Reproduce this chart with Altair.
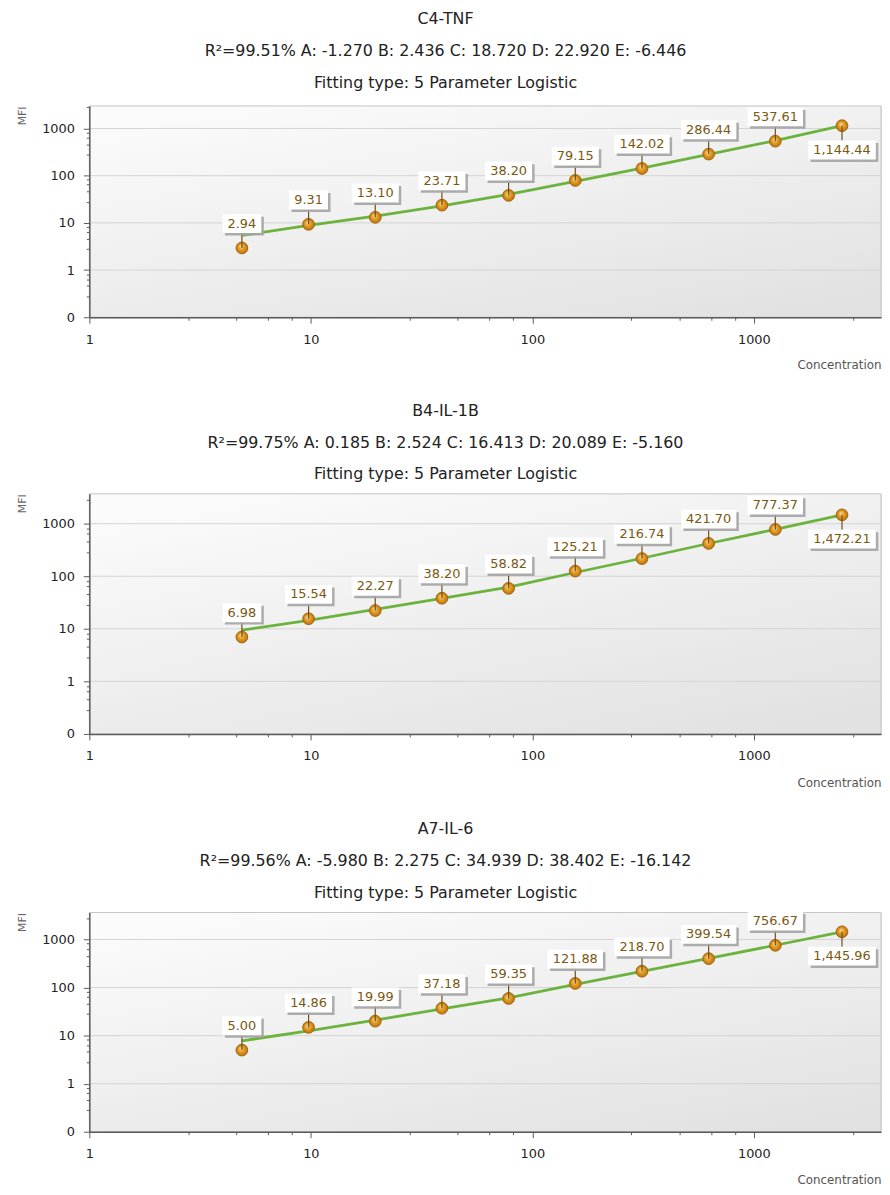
import altair as alt
import pandas as pd

# ---------------- data ----------------
concentration = [4.8828125, 9.765625, 19.53125, 39.0625, 78.125, 156.25, 312.5, 625.0, 1250.0, 2500.0]

tnf_mfi = [2.94, 9.31, 13.10, 23.71, 38.20, 79.15, 142.02, 286.44, 537.61, 1144.44]
tnf_fit = [5.4, 8.9, 13.9, 23.0, 40.0, 76.0, 145.0, 283.0, 555.0, 1150.0]

il1b_mfi = [6.98, 15.54, 22.27, 38.20, 58.82, 125.21, 216.74, 421.70, 777.37, 1472.21]
il1b_fit = [9.4, 14.5, 23.5, 38.0, 62.0, 118.0, 220.0, 420.0, 780.0, 1470.0]

il6_mfi = [5.00, 14.86, 19.99, 37.18, 59.35, 121.88, 218.70, 399.54, 756.67, 1445.96]
il6_fit = [7.8, 12.5, 21.0, 36.0, 61.0, 117.0, 218.0, 405.0, 760.0, 1446.0]

panel_titles = ["C4-TNF", "B4-IL-1B", "A7-IL-6"]
panel_params = [
    "R²=99.51% A: -1.270 B: 2.436 C: 18.720 D: 22.920 E: -6.446",
    "R²=99.75% A: 0.185 B: 2.524 C: 16.413 D: 20.089 E: -5.160",
    "R²=99.56% A: -5.980 B: 2.275 C: 34.939 D: 38.402 E: -16.142",
]
fit_type = "Fitting type: 5 Parameter Logistic"

x_major = [1, 10, 100, 1000]
y_major = [1, 10, 100, 1000]
y_floor = 0.1                      # bottom of log axis, labelled "0"
minor_steps = [2.8, 4.6, 6.4, 8.2]
x_max = 3750
y_tops = [3000, 3700, 3650]

# ---------------- layout / style ----------------
WIDTH = 798
HEIGHTS = [213, 242, 221]
X_TITLE_PAD = [14, 15, 14]
FONT = "DejaVu Sans"
GREEN = "#6cb33e"
LABEL_COLOR = "#7a580f"


def tick_values(lo, hi):
    out = []
    d = lo
    while d <= hi:
        for m in [1] + minor_steps:
            v = round(d * m, 6)
            if lo <= v <= hi:
                out.append(v)
        d *= 10
    return out


def box_path(label, pos):
    digits = sum(ch.isdigit() for ch in label)
    punct = len(label) - digits
    w = digits * 8.3 + punct * 4.2 + 10
    top, bot = (-34, -15) if pos == "above" else (15, 34)
    return f"M{-w/2:.1f},{top}H{w/2:.1f}V{bot}H{-w/2:.1f}Z"


x_major_js = "[" + ",".join(str(v) for v in x_major) + "]"
y_major_js = "[" + ",".join(str(v) for v in [y_floor] + y_major) + "]"
x_test = f"indexof({x_major_js}, datum.value) >= 0"
y_test = f"indexof({y_major_js}, datum.value) >= 0"

marker_fill = alt.RadialGradient(
    gradient="radial",
    stops=[
        alt.GradientStop(color="#fbd98f", offset=0),
        alt.GradientStop(color="#e0981f", offset=0.55),
        alt.GradientStop(color="#b87412", offset=1),
    ],
    x1=0.4, y1=0.35, r1=0, x2=0.5, y2=0.5, r2=0.5,
)
bg_fill = alt.LinearGradient(
    gradient="linear",
    stops=[
        alt.GradientStop(color="#fbfbfb", offset=0),
        alt.GradientStop(color="#e2e2e2", offset=1),
    ],
    x1=0.15, y1=0, x2=0.85, y2=1,
)


def panel(mfi, fit, title, param, y_top, h, xpad):
    labels = [f"{v:,.2f}" for v in mfi]
    last = max(concentration)
    pos = ["below" if c == last else "above" for c in concentration]
    df = pd.DataFrame({
        "conc": concentration, "mfi": mfi, "fit": fit,
        "label": labels, "pos": pos,
        "box": [box_path(l, p) for l, p in zip(labels, pos)],
    })

    xs = alt.Scale(type="log", domain=[1, x_max], nice=False)
    ys = alt.Scale(type="log", domain=[y_floor, y_top], nice=False)

    x_axis = alt.Axis(
        values=tick_values(1, x_max),
        labelExpr=f"{x_test} ? format(datum.value, 'd') : ''",
        tickSize={"condition": {"test": x_test, "value": 6}, "value": 3},
        grid=False, zindex=1,
        domainColor="#5a5a5a", domainWidth=1.5, tickColor="#5a5a5a", tickWidth=1,
        labelFont=FONT, labelFontSize=13, labelColor="#222222", labelPadding=10,
        labelOverlap=False, labelFlush=False,
        title="Concentration", titleAnchor="end", titleFont=FONT, titleFontSize=12,
        titleFontWeight="normal", titleColor="#555555", titlePadding=xpad,
    )
    y_axis = alt.Axis(
        values=tick_values(y_floor, y_top),
        labelExpr=(f"datum.value == {y_floor} ? '0' : "
                   f"({y_test} ? format(datum.value, 'd') : '')"),
        tickSize={"condition": {"test": y_test, "value": 6}, "value": 3},
        grid=False, zindex=1,
        domainColor="#5a5a5a", domainWidth=1.5, tickColor="#5a5a5a", tickWidth=1,
        labelFont=FONT, labelFontSize=13, labelColor="#222222", labelPadding=9,
        labelOverlap=False, labelFlush=False,
        title="MFI", titleAnchor="end", titleFont=FONT, titleFontSize=11,
        titleFontWeight="normal", titleColor="#666666", titlePadding=14,
    )

    X = alt.X("conc:Q", scale=xs, axis=x_axis)
    Y = alt.Y("mfi:Q", scale=ys, axis=y_axis)

    bg = alt.Chart(pd.DataFrame({"bg": [0]})).mark_rect(
        fill=bg_fill, stroke="#c6c6c6", strokeWidth=1
    ).encode(x=alt.value(0), x2=alt.value(WIDTH), y=alt.value(0), y2=alt.value(h))

    grid = alt.Chart(pd.DataFrame({"g": y_major})).mark_rule(
        color="#d3d3d3", strokeWidth=1
    ).encode(y=alt.Y("g:Q", scale=ys, axis=y_axis))

    base = alt.Chart(df)
    line = base.mark_line(color=GREEN, strokeWidth=2.8).encode(
        x=X, y=alt.Y("fit:Q", scale=ys, axis=y_axis))
    pts = base.mark_point(
        filled=True, fill=marker_fill, stroke="#a4650f", strokeWidth=1,
        size=140, opacity=1, shape="circle"
    ).encode(x=X, y=Y)

    above = alt.datum.pos == "above"
    below = alt.datum.pos == "below"
    lead_up = base.transform_filter(above).mark_rule(
        color="#6e4f1c", strokeWidth=1.2, y2Offset=-15).encode(x=X, y=Y, y2="mfi:Q")
    lead_dn = base.transform_filter(below).mark_rule(
        color="#6e4f1c", strokeWidth=1.2, y2Offset=15).encode(x=X, y=Y, y2="mfi:Q")

    shadow = base.mark_point(
        filled=True, fill="#a3a3a3", size=4, opacity=0.9, strokeWidth=0,
        xOffset=2.5, yOffset=2.5
    ).encode(x=X, y=Y, shape=alt.Shape("box:N", scale=None))
    box = base.mark_point(
        filled=True, fill="#ffffff", size=4, opacity=1, strokeWidth=0
    ).encode(x=X, y=Y, shape=alt.Shape("box:N", scale=None))

    txt_up = base.transform_filter(above).mark_text(
        dy=-24.5, font=FONT, fontSize=13, color=LABEL_COLOR, baseline="middle", align="center"
    ).encode(x=X, y=Y, text="label:N")
    txt_dn = base.transform_filter(below).mark_text(
        dy=24.5, font=FONT, fontSize=13, color=LABEL_COLOR, baseline="middle", align="center"
    ).encode(x=X, y=Y, text="label:N")

    return alt.layer(bg, grid, line, pts, lead_up, lead_dn, shadow, box, txt_up, txt_dn).properties(
        width=WIDTH, height=h,
        title=alt.TitleParams(
            text=title, subtitle=[param, fit_type],
            font=FONT, fontSize=16, fontWeight="normal", color="#222222",
            subtitleFont=FONT, subtitleFontSize=16, subtitleColor="#222222",
            subtitlePadding=16, subtitleLineHeight=32, offset=11, anchor="middle",
            dx=-40,
        ),
    )


panels = [
    panel(tnf_mfi, tnf_fit, panel_titles[0], panel_params[0], y_tops[0], HEIGHTS[0], X_TITLE_PAD[0]),
    panel(il1b_mfi, il1b_fit, panel_titles[1], panel_params[1], y_tops[1], HEIGHTS[1], X_TITLE_PAD[1]),
    panel(il6_mfi, il6_fit, panel_titles[2], panel_params[2], y_tops[2], HEIGHTS[2], X_TITLE_PAD[2]),
]

chart = alt.vconcat(*panels, spacing=31).properties(
    padding={"left": 8, "top": -3, "right": 0, "bottom": 0},
    background="white",
).configure_view(stroke=None).configure(font=FONT)

chart.save("out.html", embed_options={"renderer": "svg", "actions": False})
